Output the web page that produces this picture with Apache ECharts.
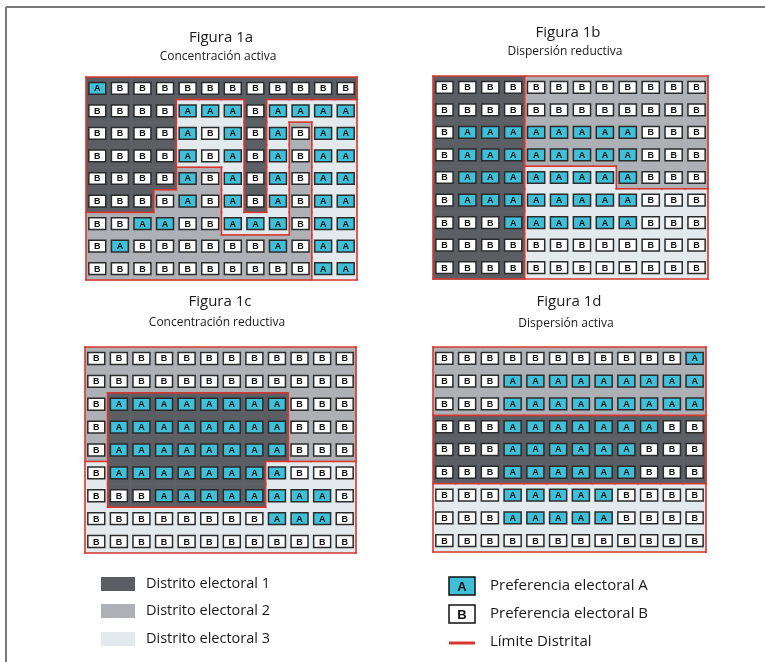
<!DOCTYPE html>
<html><head><meta charset="utf-8">
<script src="https://cdn.jsdelivr.net/npm/echarts@6/dist/echarts.min.js"></script>
<style>html,body{margin:0;padding:0;background:#fff}#c{width:765px;height:662px}</style>
</head><body><div id="c"></div>
<script>
// ---- data ----
const panelTitles = ['Figura 1a', 'Figura 1b', 'Figura 1c', 'Figura 1d'];
const panelSubtitles = ['Concentración activa', 'Dispersión reductiva', 'Concentración reductiva', 'Dispersión activa'];

const votes1a = ['ABBBBBBBBBBB','BBBBAAABAAAA','BBBBABABABAA','BBBBABABABAA','BBBBABABABAA','BBBBABABABAA','BBAABBAAABAA','BABBBBBBABAA','BBBBBBBBBBAA'];
const districts1a = ['111111111111','111133313333','111133313233','111133313233','111122313233','111222313233','222222333233','222222222233','222222222233'];

const votes1b = ['BBBBBBBBBBBB','BBBBBBBBBBBB','BAAAAAAAABBB','BAAAAAAAABBB','BAAAAAAAABBB','BAAAAAAAABBB','BBBAAAAAABBB','BBBBBBBBBBBB','BBBBBBBBBBBB'];
const districts1b = ['111122222222','111122222222','111122222222','111122222222','111133332222','111133333333','111133333333','111133333333','111133333333'];

const votes1c = ['BBBBBBBBBBBB','BBBBBBBBBBBB','BAAAAAAAABBB','BAAAAAAAABBB','BAAAAAAAABBB','BAAAAAAAABBB','BBBAAAAAAAAB','BBBBBBBBAAAB','BBBBBBBBBBBB'];
const districts1c = ['222222222222','222222222222','211111111222','211111111222','211111111222','311111113333','311111113333','333333333333','333333333333'];

const votes1d = ['BBBBBBBBBBBA','BBBAAAAAAAAA','BBBAAAAAAAAA','BBBAAAAAAABB','BBBAAAAAABBB','BBBAAAAAABBB','BBBAAAAABBBB','BBBAAAAABBBB','BBBBBBBBBBBB'];
const districts1d = ['222222222222','222222222222','222222222222','111111111111','111111111111','111111111111','333333333333','333333333333','333333333333'];

const districtLabels = ['Distrito electoral 1', 'Distrito electoral 2', 'Distrito electoral 3'];
const preferenceLabels = ['Preferencia electoral A', 'Preferencia electoral B'];
const boundaryLabel = 'Límite Distrital';

// ---- style ----
const districtColors = ['#5b5f64', '#adb0b4', '#e2eaed'];
const cyan = '#3fc0d8';
const red = '#d8362e';
const FONT = '"Open Sans", "Noto Sans", sans-serif';

const panels = [
  {votes: votes1a, districts: districts1a, rect: {left: 86, top: 77, width: 271, height: 203}, title: [221, 38, 57]},
  {votes: votes1b, districts: districts1b, rect: {left: 433, top: 76, width: 275, height: 203}, title: [568, 33, 52]},
  {votes: votes1c, districts: districts1c, rect: {left: 85, top: 347, width: 271, height: 206}, title: [220, 302, 323]},
  {votes: votes1d, districts: districts1d, rect: {left: 433, top: 347, width: 273, height: 205}, title: [569, 302, 324]}
];

function cellData(p) {
  const out = [];
  p.votes.forEach((row, r) => {
    for (let c = 0; c < row.length; c++) {
      out.push([c, r, +p.districts[r][c], row[c] === 'A' ? 0 : 1]);
    }
  });
  return out;
}
function boundaryData(p) {
  const d = p.districts, R = d.length, C = d[0].length, out = [];
  for (let r = 0; r < R; r++) for (let c = 0; c < C; c++) {
    if (c < C - 1 && d[r][c] !== d[r][c + 1]) out.push([c + 1, r, c + 1, r + 1]);
    if (r < R - 1 && d[r][c] !== d[r + 1][c]) out.push([c, r + 1, c + 1, r + 1]);
  }
  out.push([0, 0, C, 0], [0, R, C, R], [0, 0, 0, R], [C, 0, C, R]);
  return out;
}

function renderCell(params, api) {
  const c = api.value(0), r = api.value(1), dist = api.value(2), v = api.value(3);
  const p0 = api.coord([c, r]), p1 = api.coord([c + 1, r + 1]);
  const x = Math.min(p0[0], p1[0]), y = Math.min(p0[1], p1[1]);
  const w = Math.abs(p1[0] - p0[0]), h = Math.abs(p1[1] - p0[1]);
  const bw = w * 0.75, bh = h * 0.52;
  const bx = x + (w - bw) / 2, by = y + (h - bh) / 2;
  return {type: 'group', children: [
    {type: 'rect', shape: {x: x, y: y, width: w + 0.6, height: h + 0.6}, style: {fill: districtColors[dist - 1]}},
    {type: 'rect', shape: {x: bx, y: by, width: bw, height: bh}, style: {fill: v === 0 ? cyan : '#ffffff', stroke: '#2b2b2b', lineWidth: 1.5}},
    {type: 'text', style: {x: x + w / 2, y: y + h / 2 + 0.5, text: v === 0 ? 'A' : 'B', align: 'center', verticalAlign: 'middle', font: 'bold 9px "Liberation Sans", Arial, sans-serif', fill: '#111'}}
  ]};
}
function renderBoundary(params, api) {
  const a = api.coord([api.value(0), api.value(1)]);
  const b = api.coord([api.value(2), api.value(3)]);
  return {type: 'line', shape: {x1: a[0], y1: a[1], x2: b[0], y2: b[1]}, style: {stroke: red, lineWidth: 1.6, lineCap: 'square'}};
}

const grids = [], xAxes = [], yAxes = [], series = [], graphics = [];
panels.forEach((p, i) => {
  grids.push(Object.assign({}, p.rect));
  xAxes.push({type: 'value', gridIndex: i, min: 0, max: p.votes[0].length, show: false});
  yAxes.push({type: 'value', gridIndex: i, min: 0, max: p.votes.length, inverse: true, show: false});
  series.push({type: 'custom', xAxisIndex: i, yAxisIndex: i, data: cellData(p), renderItem: renderCell, clip: false, silent: true, z: 2,
    encode: {x: 0, y: 1}});
  series.push({type: 'custom', xAxisIndex: i, yAxisIndex: i, data: boundaryData(p), renderItem: renderBoundary, clip: false, silent: true, z: 5,
    encode: {x: [0, 2], y: [1, 3]}});
  graphics.push({type: 'text', x: p.title[0], y: p.title[1], style: {text: panelTitles[i], align: 'center', verticalAlign: 'middle', font: '500 15px ' + FONT, fill: '#1a1a1a'}});
  graphics.push({type: 'text', x: p.title[0] - 3, y: p.title[2], style: {text: panelSubtitles[i], align: 'center', verticalAlign: 'middle', font: '12px ' + FONT, fill: '#1a1a1a'}});
});

// frame
graphics.push({type: 'line', shape: {x1: 6, y1: 7, x2: 765, y2: 7}, style: {stroke: '#7a7a7a', lineWidth: 2}});
graphics.push({type: 'line', shape: {x1: 6, y1: 7, x2: 6, y2: 662}, style: {stroke: '#7a7a7a', lineWidth: 2}});

// legend: districts
const distY = [584, 611, 639];
districtLabels.forEach((lab, i) => {
  graphics.push({type: 'rect', shape: {x: 101, y: distY[i] - 7, width: 34, height: 14}, style: {fill: districtColors[i]}});
  graphics.push({type: 'text', x: 146, y: distY[i], style: {text: lab, align: 'left', verticalAlign: 'middle', font: '14.5px ' + FONT, fill: '#1a1a1a'}});
});
// legend: preferences
const prefY = [586, 614];
preferenceLabels.forEach((lab, i) => {
  graphics.push({type: 'rect', shape: {x: 449, y: prefY[i] - 9, width: 26, height: 18}, style: {fill: i === 0 ? cyan : '#ffffff', stroke: '#111', lineWidth: 1.5}});
  graphics.push({type: 'text', x: 462, y: prefY[i] + 1, style: {text: i === 0 ? 'A' : 'B', align: 'center', verticalAlign: 'middle', font: 'bold 13px "Liberation Sans", Arial, sans-serif', fill: '#111'}});
  graphics.push({type: 'text', x: 490, y: prefY[i], style: {text: lab, align: 'left', verticalAlign: 'middle', font: '15px ' + FONT, fill: '#1a1a1a'}});
});
graphics.push({type: 'line', shape: {x1: 449, y1: 643, x2: 475, y2: 643}, style: {stroke: red, lineWidth: 3}});
graphics.push({type: 'text', x: 490, y: 642, style: {text: boundaryLabel, align: 'left', verticalAlign: 'middle', font: '15px ' + FONT, fill: '#1a1a1a'}});

const chart = echarts.init(document.getElementById('c'));
chart.setOption({
  animation: false,
  backgroundColor: '#ffffff',
  grid: grids,
  xAxis: xAxes,
  yAxis: yAxes,
  series: series,
  graphic: {elements: graphics}
});
</script>
</body></html>
